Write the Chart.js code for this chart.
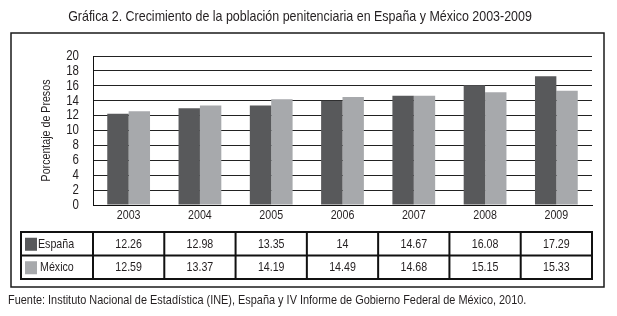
<!DOCTYPE html>
<html>
<head>
<meta charset="utf-8">
<script src="https://cdn.jsdelivr.net/npm/chart.js@4.4.1/dist/chart.umd.min.js"></script>
<style>
  html, body { margin: 0; padding: 0; background: #fff; }
  #wrap { position: relative; width: 617px; height: 316px; }
  canvas { display: block; }
</style>
</head>
<body>
<div id="wrap"><canvas id="c" width="617" height="316"></canvas></div>
<script>
const categories = ['2003', '2004', '2005', '2006', '2007', '2008', '2009'];
const espana = [12.26, 12.98, 13.35, 14, 14.67, 16.08, 17.29];
const mexico = [12.59, 13.37, 14.19, 14.49, 14.68, 15.15, 15.33];
const espanaLabels = ['12.26', '12.98', '13.35', '14', '14.67', '16.08', '17.29'];
const mexicoLabels = ['12.59', '13.37', '14.19', '14.49', '14.68', '15.15', '15.33'];
const seriesNames = ['España', 'México'];
const titleText = 'Gráfica 2. Crecimiento de la población penitenciaria en España y México 2003-2009';
const yTitle = 'Porcentaje de Presos';
const sourceText = 'Fuente: Instituto Nacional de Estadística (INE), España y IV Informe de Gobierno Federal de México, 2010.';

const FONT = "'Liberation Sans', Arial, sans-serif";
const TXT = '#231f20';
const DARK = '#58595b';
const LIGHT = '#a7a9ac';
const NARROW = 0.82;

function narrowText(ctx, text, x, y, size, align, sx, rot) {
  ctx.save();
  ctx.font = size + 'px ' + FONT;
  ctx.fillStyle = TXT;
  ctx.textBaseline = 'middle';
  ctx.textAlign = align;
  ctx.translate(x, y);
  if (rot) ctx.rotate(rot);
  ctx.scale(sx || NARROW, 1);
  ctx.fillText(text, 0, 0);
  ctx.restore();
}

const decor = {
  id: 'decor',
  afterDraw(chart) {
    const ctx = chart.ctx;
    const x = chart.scales.x;
    const y = chart.scales.y;
    ctx.save();
    // title
    narrowText(ctx, titleText, 300, 17, 15, 'center', 0.83);
    // outer box
    ctx.strokeStyle = '#1a1a1a';
    ctx.lineWidth = 1.5;
    ctx.strokeRect(11, 33, 593, 254);
    // y tick labels
    y.ticks.forEach(t => {
      narrowText(ctx, String(t.value), 79, y.getPixelForValue(t.value), 14, 'right');
    });
    // y title
    narrowText(ctx, yTitle, 46, (y.top + y.bottom) / 2, 13, 'center', NARROW, -Math.PI / 2);
    // x tick labels
    categories.forEach((c, i) => {
      narrowText(ctx, c, x.getPixelForValue(i), 215, 13, 'center');
    });
    // table
    const top = 232, mid = 255.5, bot = 279;
    const left = 21;
    const half = (x.getPixelForValue(1) - x.getPixelForValue(0)) / 2;
    const colStart = x.getPixelForValue(0) - half;
    const right = x.getPixelForValue(categories.length - 1) + half;
    ctx.strokeStyle = '#111';
    ctx.lineWidth = 2;
    ctx.strokeRect(left, top, right - left, bot - top);
    ctx.beginPath();
    ctx.moveTo(left, mid); ctx.lineTo(right, mid);
    ctx.moveTo(colStart, top); ctx.lineTo(colStart, bot);
    for (let i = 1; i < categories.length; i++) {
      const xx = x.getPixelForValue(i) - half;
      ctx.moveTo(xx, top); ctx.lineTo(xx, bot);
    }
    ctx.stroke();
    const rows = [[espanaLabels, DARK, seriesNames[0], top, 38], [mexicoLabels, LIGHT, seriesNames[1], mid, 40]];
    rows.forEach(([labels, color, name, y0, tx]) => {
      const cy = y0 + (mid - top) / 2;
      ctx.fillStyle = color;
      ctx.fillRect(25, cy - 6, 12, 13);
      narrowText(ctx, name, tx, cy + 0.5, 13, 'left');
      labels.forEach((t, i) => narrowText(ctx, t, x.getPixelForValue(i), cy + 0.5, 13, 'center'));
    });
    // source
    narrowText(ctx, sourceText, 8, 300, 13, 'left', 0.84);
    ctx.restore();
  }
};

new Chart(document.getElementById('c'), {
  type: 'bar',
  data: {
    labels: categories,
    datasets: [
      { label: seriesNames[0], data: espana, backgroundColor: DARK, borderWidth: 0 },
      { label: seriesNames[1], data: mexico, backgroundColor: LIGHT, borderWidth: 0 }
    ]
  },
  options: {
    responsive: false,
    animation: false,
    devicePixelRatio: 1,
    layout: { padding: { left: 0, right: 25, top: 56, bottom: 91 } },
    categoryPercentage: 0.6,
    barPercentage: 1.0,
    plugins: { legend: { display: false }, tooltip: { enabled: false } },
    scales: {
      x: {
        grid: { display: false },
        border: { display: true, color: '#111', width: 1 },
        ticks: { display: false },
        afterFit(s) { s.height = 20; }
      },
      y: {
        min: 0, max: 20,
        ticks: { display: false, stepSize: 2, autoSkip: false },
        grid: { color: '#222', lineWidth: 1, drawTicks: false },
        border: { display: true, color: '#111', width: 1 },
        afterFit(s) { s.width = 93; }
      }
    }
  },
  plugins: [decor]
});
</script>
</body>
</html>
